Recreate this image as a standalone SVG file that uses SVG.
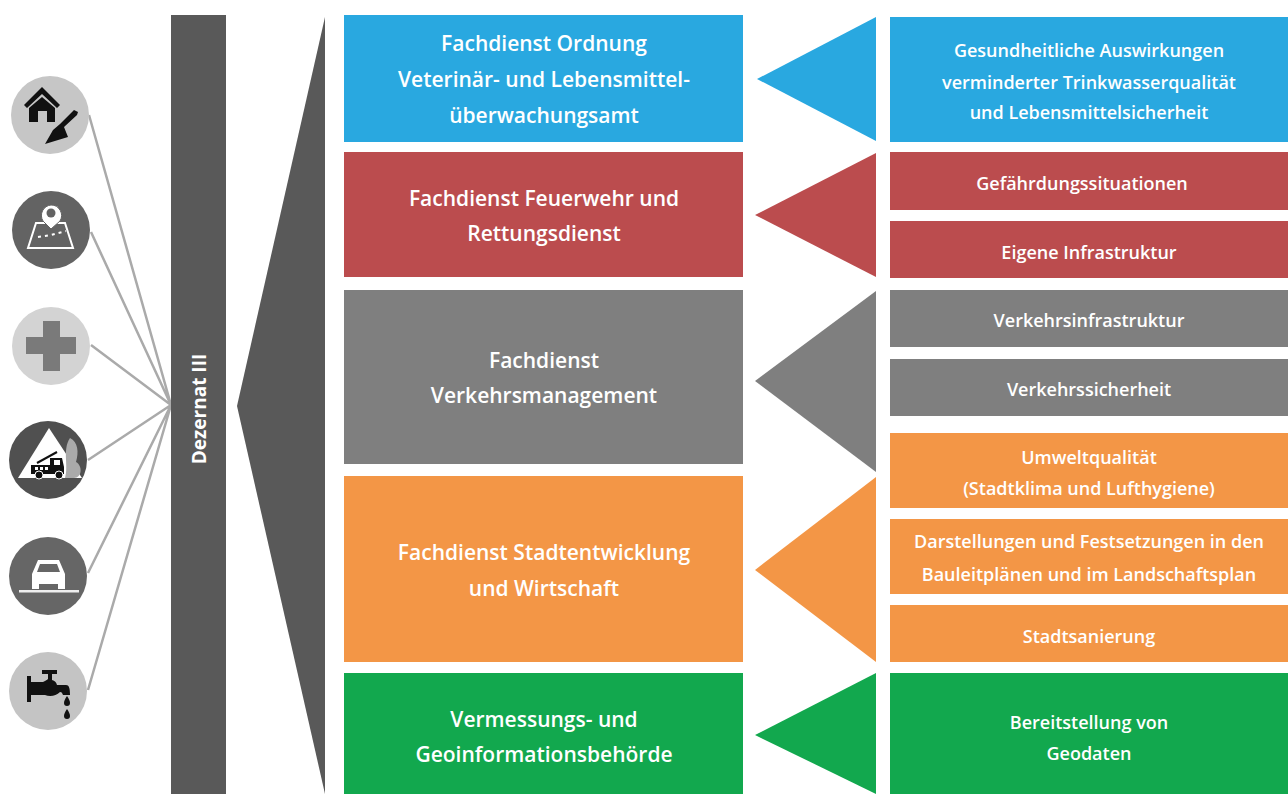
<svg xmlns="http://www.w3.org/2000/svg" width="1288" height="794" viewBox="0 0 1288 794">
<style>
text{font-family:"Open Sans","Liberation Sans",sans-serif;fill:#fff;text-anchor:middle;font-weight:600}
.h{font-size:21px}
.s{font-size:18px}
.c{stroke:#aaa;stroke-width:2.500;fill:none}
.blue{fill:#29a8e0}.red{fill:#bb4c4e}.gray{fill:#7f7f7f}.orange{fill:#f39646}.green{fill:#12a84e}
.w{fill:#fff}.d{fill:#111}
</style>
<rect width="1288" height="794" fill="#fff"/>
<g id="connectors">
<path class="c" d="M89 115L171 405M91 232L171 405M91 345L171 405M88 460L171 405M88 573L171 405M88 690L171 405"/>
</g>
<g id="dezernat">
<rect x="171" y="15" width="55" height="779" fill="#595959"/>
<text transform="translate(206 409) rotate(-90)" style="font-size:19px;font-weight:700">Dezernat III</text>
</g>
<polygon id="fan" points="325,17 325,794 237,406" fill="#595959"/>
<g id="icon-bau">
<circle cx="50" cy="115" r="39" fill="#c6c6c6"/>
<path class="d" d="M24 105L42 87L60 105L57 108L42 94L27 108Z"/>
<path class="d" d="M29 108L42 97L55 108V122H47V111H38V122H29Z"/>
<path class="d" d="M60 124L74 110L78 112L77 115L64 127L68 137L45 144L53 130Z"/>
</g>
<g id="icon-geo">
<circle cx="51" cy="230" r="39" fill="#636363"/>
<path fill="none" stroke="#fff" stroke-width="2" d="M36 223H65L73 248H28Z"/>
<path fill="#fff" stroke="#636363" stroke-width="1" d="M51 205a10.500 10.500 0 0 1 9 16L51 229L43 221a10.500 10.500 0 0 1 8-16Z"/>
<circle cx="51" cy="213" r="4.500" fill="#636363"/>
<path fill="none" stroke="#fff" stroke-width="2" stroke-dasharray="3 4" d="M38 237L51 235L66 231"/>
</g>
<g id="icon-health">
<circle cx="51" cy="346" r="39" fill="#d3d3d3"/>
<path fill="#7a7a7a" d="M43 321H60V337H76V354H60V371H43V354H26V337H43Z"/>
</g>
<g id="icon-fire">
<circle cx="48" cy="460" r="39" fill="#505050"/>
<polygon points="49,428 82,478 18,478" fill="#fff"/>
<path fill="#aaa" d="M70 438C78 442 79 452 76 462C83 466 82 478 74 478H65C69 466 62 450 70 438Z"/>
<path class="d" d="M31 465H50V458H62L64 467V474H31Z"/>
<path stroke="#111" stroke-width="2" d="M37 463L57 452"/>
<circle cx="39" cy="475" r="4" class="d" stroke="#fff"/><circle cx="59" cy="475" r="4" class="d" stroke="#fff"/>
<path class="w" d="M35 467h3v3h-3zM40 467h3v3h-3zM45 467h3v3h-3zM54 460h6v5h-6z"/>
</g>
<g id="icon-car">
<circle cx="48" cy="576" r="39" fill="#666"/>
<path class="w" d="M38 560H59L65 574V589H58V584H39V589H32V574Z"/>
<path fill="#666" d="M40 564H57L60 572H37Z"/>
<rect x="19" y="590" width="60" height="2.500" fill="#eee"/>
</g>
<g id="icon-water">
<circle cx="48" cy="691" r="39" fill="#c4c4c4"/>
<path class="d" d="M27 676H31V682H43C45 681 47 680 48 679V674H42V670H57V674H52V680C55 681 56 682 57 685H66C69 685 70 688 70 695H63C62 693 62 692 60 692C56 696 50 697 45 695H31V702H27Z"/>
<path class="d" d="M67 696c2 3 3 5 3 7a3 3 0 0 1-6 0c0-2 1-4 3-7zM67 709c2 3 3 5 3 7a3 3 0 0 1-6 0c0-2 1-4 3-7z"/>
</g>
<g id="fd-ordnung">
<rect class="blue" x="344" y="15" width="399" height="127"/>
<text class="h" x="544" y="51">Fachdienst Ordnung</text>
<text class="h" x="544" y="87">Veterinär- und Lebensmittel-</text>
<text class="h" x="544" y="123">überwachungsamt</text>
</g>
<polygon id="arrow-blue" class="blue" points="876,17 876,141 757,79"/>
<g id="t-ordnung">
<rect class="blue" x="890" y="17" width="398" height="125"/>
<text class="s" x="1089" y="57">Gesundheitliche Auswirkungen</text>
<text class="s" x="1089" y="89">verminderter Trinkwasserqualität</text>
<text class="s" x="1089" y="119">und Lebensmittelsicherheit</text>
</g>
<g id="fd-feuerwehr">
<rect class="red" x="344" y="152" width="399" height="125"/>
<text class="h" x="544" y="206">Fachdienst Feuerwehr und</text>
<text class="h" x="544" y="241">Rettungsdienst</text>
</g>
<polygon id="arrow-red" class="red" points="876,153 876,277 755,215"/>
<g id="t-gefahr"><rect class="red" x="890" y="152" width="398" height="58"/><text class="s" x="1082" y="190">Gefährdungssituationen</text></g>
<g id="t-infra"><rect class="red" x="890" y="221" width="398" height="57"/><text class="s" x="1089" y="259">Eigene Infrastruktur</text></g>
<g id="fd-verkehr">
<rect class="gray" x="344" y="290" width="399" height="174"/>
<text class="h" x="544" y="368">Fachdienst</text>
<text class="h" x="544" y="403">Verkehrsmanagement</text>
</g>
<polygon id="arrow-gray" class="gray" points="876,291 876,472 755,381"/>
<g id="t-vinfra"><rect class="gray" x="890" y="290" width="398" height="57"/><text class="s" x="1089" y="327">Verkehrsinfrastruktur</text></g>
<g id="t-vsich"><rect class="gray" x="890" y="359" width="398" height="57"/><text class="s" x="1089" y="396">Verkehrssicherheit</text></g>
<g id="fd-stadt">
<rect class="orange" x="344" y="476" width="399" height="186"/>
<text class="h" x="544" y="560">Fachdienst Stadtentwicklung</text>
<text class="h" x="544" y="596">und Wirtschaft</text>
</g>
<polygon id="arrow-orange" class="orange" points="876,477 876,662 755,570"/>
<g id="t-umwelt"><rect class="orange" x="890" y="433" width="398" height="75"/><text class="s" x="1089" y="464">Umweltqualität</text><text class="s" x="1089" y="495">(Stadtklima und Lufthygiene)</text></g>
<g id="t-bau"><rect class="orange" x="890" y="519" width="398" height="75"/><text class="s" x="1089" y="548">Darstellungen und Festsetzungen in den</text><text class="s" x="1089" y="581">Bauleitplänen und im Landschaftsplan</text></g>
<g id="t-sanierung"><rect class="orange" x="890" y="605" width="398" height="57"/><text class="s" x="1089" y="643">Stadtsanierung</text></g>
<g id="fd-verm">
<rect class="green" x="344" y="673" width="399" height="121"/>
<text class="h" x="544" y="727">Vermessungs- und</text>
<text class="h" x="544" y="762">Geoinformationsbehörde</text>
</g>
<polygon id="arrow-green" class="green" points="876,673 876,794 755,735"/>
<g id="t-geo"><rect class="green" x="890" y="673" width="398" height="121"/><text class="s" x="1089" y="729">Bereitstellung von</text><text class="s" x="1089" y="760">Geodaten</text></g>
</svg>
